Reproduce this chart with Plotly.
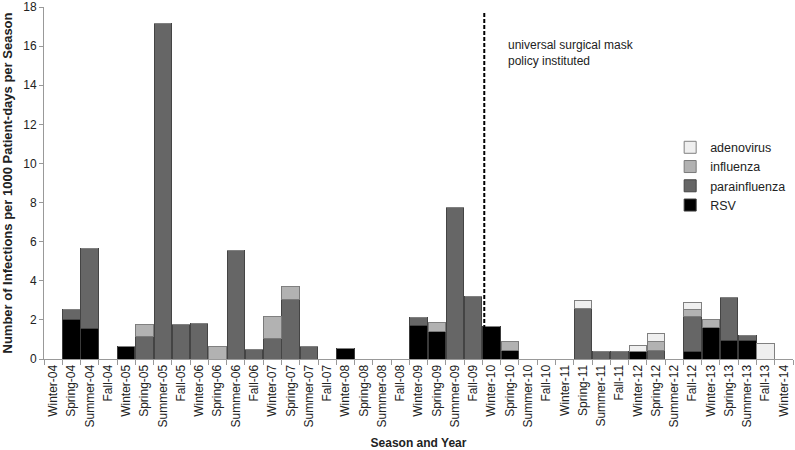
import plotly.graph_objects as go

seasons = ["Winter", "Spring", "Summer", "Fall"]
categories = []
for yr in range(4, 15):
    for s in seasons:
        categories.append(f"{s}-{yr:02d}")
categories = categories[:41]  # Winter-04 .. Winter-14

rsv = [0, 2.04, 1.57, 0, 0.65, 0, 0, 0, 0, 0, 0, 0, 0, 0, 0, 0, 0.55, 0, 0, 0,
       1.70, 1.41, 0, 0, 1.65, 0.46, 0, 0, 0, 0, 0, 0, 0.36, 0, 0, 0.37,
       1.60, 0.95, 0.94, 0, 0]
parainfluenza = [0, 0.49, 4.08, 0, 0, 1.17, 17.16, 1.77, 1.84, 0, 5.54, 0.48, 1.05, 3.04, 0.66, 0, 0, 0, 0, 0,
                 0.44, 0, 7.74, 3.21, 0, 0, 0, 0, 0, 2.57, 0.39, 0.36, 0, 0.46, 0, 1.81,
                 0, 2.20, 0.28, 0, 0]
influenza = [0, 0, 0, 0, 0, 0.60, 0, 0, 0, 0.65, 0, 0, 1.13, 0.65, 0, 0, 0, 0, 0, 0,
             0, 0.46, 0, 0, 0, 0.46, 0, 0, 0, 0, 0, 0, 0, 0.41, 0, 0.34,
             0.41, 0, 0, 0, 0]
adenovirus = [0, 0, 0, 0, 0, 0, 0, 0, 0, 0, 0, 0, 0, 0, 0, 0, 0, 0, 0, 0,
              0, 0, 0, 0, 0, 0, 0, 0, 0, 0.42, 0, 0, 0.34, 0.44, 0, 0.37,
              0, 0, 0, 0.80, 0]

y_ticks = [0, 2, 4, 6, 8, 10, 12, 14, 16, 18]
policy_start = "Winter-10"
policy_text = "universal surgical mask<br>policy instituted"

font_family = "Liberation Sans, Arial, sans-serif"

series = [
    ("RSV", rsv, "#000000", "#3a3a3a"),
    ("parainfluenza", parainfluenza, "#666666", "#444444"),
    ("influenza", influenza, "#b2b2b2", "#7a7a7a"),
    ("adenovirus", adenovirus, "#efefef", "#808080"),
]

fig = go.Figure()
for name, vals, fill, edge in series:
    fig.add_trace(go.Bar(
        x=categories, y=vals, name=name,
        marker=dict(color=fill, line=dict(color=edge, width=1)),
    ))

line_x = categories.index(policy_start) - 0.4
fig.add_shape(type="line", xref="x", yref="y", x0=line_x, x1=line_x, y0=0, y1=17.7,
              line=dict(color="black", width=2, dash="4px,2px"))
fig.add_annotation(xref="x", yref="y", x=line_x + 1.2, y=15.65, text=policy_text,
                   showarrow=False, xanchor="left", yanchor="middle", align="left",
                   font=dict(family=font_family, size=12, color="#222222"))

fig.update_layout(
    width=795, height=450,
    barmode="stack", bargap=0.05,
    plot_bgcolor="white", paper_bgcolor="white",
    margin=dict(l=44, r=2, t=7, b=91),
    font=dict(family=font_family, size=12, color="#222222"),
    legend=dict(traceorder="reversed", x=0.836, y=0.643, xanchor="left", yanchor="top",
                font=dict(size=12.5), itemwidth=30, tracegroupgap=0, bgcolor="rgba(0,0,0,0)"),
    showlegend=True,
)
fig.update_xaxes(
    type="category", categoryorder="array", categoryarray=categories,
    tickangle=-90, tickson="boundaries", ticks="outside", ticklen=5, tickcolor="#999999",
    showline=True, linecolor="#999999", linewidth=1, showgrid=False,
    tickfont=dict(size=12, color="#222222"),
    title=dict(text="<b>Season and Year</b>", font=dict(size=12), standoff=18),
    automargin=False,
)
fig.update_yaxes(
    range=[0, 18], tickvals=y_ticks, ticks="outside", ticklen=4, tickcolor="#999999",
    showline=True, linecolor="#999999", linewidth=1, showgrid=False, zeroline=False,
    ticklabeloverflow="allow",
    tickfont=dict(size=12, color="#222222"),
    title=dict(text="<b>Number of Infections per 1000 Patient-days per Season</b>",
               font=dict(size=13), standoff=8),
    automargin=False,
)

fig.write_html("out.html", config={"displayModeBar": False},
               post_script="document.body.style.margin='0';")
